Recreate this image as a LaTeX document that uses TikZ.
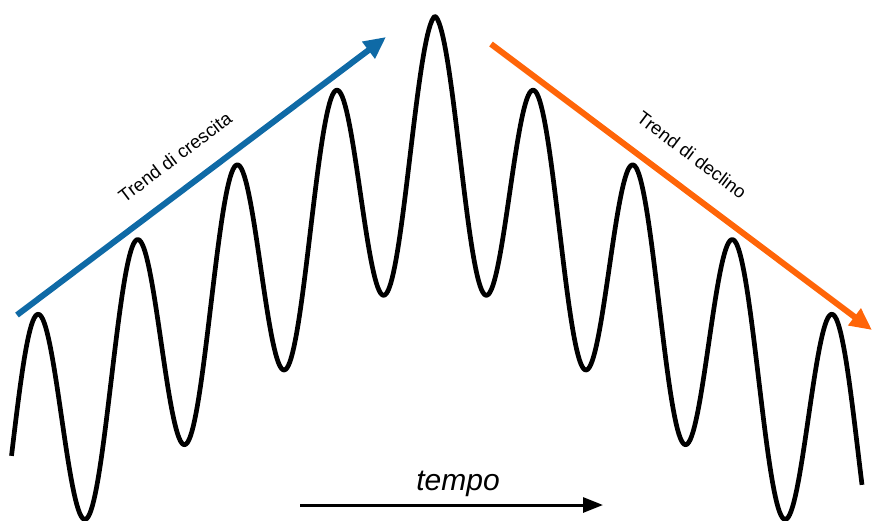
\documentclass[tikz,border=0pt]{standalone}
\usepackage{fontspec}
\setmainfont{Liberation Sans}
\usetikzlibrary{arrows.meta}
\definecolor{trendblue}{HTML}{0F6AA6}
\definecolor{trendorange}{HTML}{FF6508}
\begin{document}
\begin{tikzpicture}[x=1pt,y=-1pt,
  wave/.style={line width=4.7pt, line join=round},
  trendarrow/.style={line width=6pt, -{Triangle[length=22pt,width=20pt]}},
  timearrow/.style={line width=3pt, -{Triangle[length=20pt,width=15pt]}},
  lbl/.style={inner sep=0pt, font=\fontsize{18.5}{22}\selectfont}]
\useasboundingbox (0,0) rectangle (873,520);
% wave
\draw[wave] plot[domain=11.5:862, samples=600, variable=\t]
  (\t, {136.7 + 0.75*abs(\t-435) - 120.7*cos(((\t-435)/99.6)*360)});
% trend arrows
\coordinate (b1) at (17,315);
\coordinate (b2) at (386,37);
\coordinate (o1) at (491,44);
\coordinate (o2) at (872,330);
\draw[trendarrow, trendblue] (b1) -- (b2);
\draw[trendarrow, trendorange] (o1) -- (o2);
\node[lbl, rotate=37] (crescita) at (175,157) {Trend di crescita};
\node[lbl, rotate=-37] (declino) at (692,155) {Trend di declino};
% time
\coordinate (t1) at (300,505);
\coordinate (t2) at (603,505);
\draw[timearrow] (t1) -- (t2);
\node[inner sep=0pt, font=\fontsize{30}{34}\selectfont\itshape] (tempo) at (458,484) {tempo};
\end{tikzpicture}
\end{document}
